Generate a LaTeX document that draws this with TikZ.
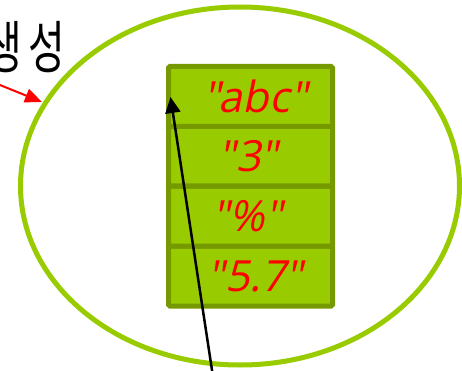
\documentclass[tikz,border=0pt]{standalone}
\usepackage{fontspec}
\usetikzlibrary{arrows.meta,shapes.geometric}
\newfontfamily\krfont{Noto Sans CJK KR}
\newfontfamily\latfont[FakeSlant=0.2]{Open Sans}
\definecolor{lime}{RGB}{153,204,0}
\definecolor{olive}{RGB}{119,153,0}
\definecolor{pred}{RGB}{255,0,0}
\tikzset{
  cell/.style={draw=olive, fill=lime, line width=5pt, rounded corners=1.5pt,
    minimum width=164pt, minimum height=60pt, inner sep=0pt,
    text=pred, font=\latfont\fontsize{43}{50}\selectfont},
  ring/.style={draw=lime, line width=5pt, ellipse, inner sep=0pt,
    minimum width=439pt, minimum height=358pt},
  redarrow/.style={draw=pred, line width=2pt, -{Triangle[length=17pt,width=14pt]}},
  blackarrow/.style={draw=black, line width=2.5pt, -{Triangle[length=16pt,width=15pt]}}
}
\begin{document}
\begin{tikzpicture}[x=1pt,y=-1pt]
\clip (0,0) rectangle (462,371);
\node[ring] (oval) at (240,186) {};
\node[cell] (r4) at (250.5,276) {\hspace*{10pt}"5.7"};
\node[cell] (r3) at (250.5,216) {"\%"\hspace*{6pt}};
\node[cell] (r2) at (250.5,156) {"3"\hspace*{4pt}};
\node[cell] (r1) at (250.5,96.5) {\hspace*{10pt}"abc"};
\node[anchor=base east, inner sep=0pt, font=\krfont\fontsize{57}{60}\selectfont, xscale=0.7] (lbl) at (65,69) {생\kern8pt성};
\coordinate (rs) at (-10,81);
\coordinate (re) at (42,102);
\coordinate (bs) at (213.5,380);
\coordinate (be) at (170.5,97);
\draw[redarrow] (rs) -- (re);
\draw[blackarrow] (bs) -- (be);
\end{tikzpicture}
\end{document}
